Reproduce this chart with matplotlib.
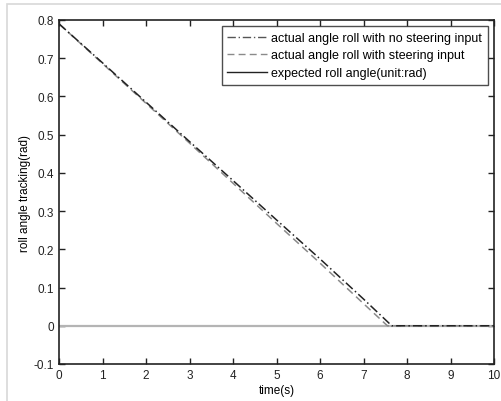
import matplotlib.pyplot as plt
from matplotlib.lines import Line2D
from matplotlib.patches import Rectangle

# roll angle
t_no_steer = [0, 1, 2, 3, 4, 5, 6, 7, 7.65, 8, 9, 10]
roll_no_steer = [0.79, 0.688, 0.585, 0.482, 0.38, 0.277, 0.175, 0.07, 0.0, 0.0, 0.0, 0.0]

t_steer = [0, 1, 2, 3, 4, 5, 6, 7, 7.55, 8, 9, 10]
roll_steer = [0.79, 0.686, 0.582, 0.478, 0.373, 0.268, 0.164, 0.058, 0.0, 0.0, 0.0, 0.0]

t_expected = [0, 10]
roll_expected = [0, 0]

plt.rcParams['font.family'] = ['Liberation Sans', 'DejaVu Sans']

fig = plt.figure(figsize=(5.02, 4.02), dpi=100)
ax = fig.add_axes([59 / 502, 1 - 365 / 402, (494 - 59) / 502, (365 - 21) / 402])

# light grey frame around the figure
fig.patches.append(Rectangle((7 / 502, -0.05), 1.1, 1 - 5 / 402 + 0.05,
                             transform=fig.transFigure, fill=False,
                             edgecolor='#d8d8d8', linewidth=1.2))

ax.plot(t_expected, roll_expected, color='#b4b4b4', linewidth=1.6)
ax.plot(t_steer, roll_steer, color='#8a8a8a', linestyle=(0, (5, 3)), linewidth=1.1)
ax.plot(t_no_steer, roll_no_steer, color='#222222', linestyle=(0, (6, 2, 1, 2)), linewidth=1.1)

ax.set_xlim(0, 10)
ax.set_ylim(-0.1, 0.8)
ax.set_xticks(range(0, 11))
ax.set_yticks([-0.1, 0, 0.1, 0.2, 0.3, 0.4, 0.5, 0.6, 0.7, 0.8])
ax.set_yticklabels(['-0.1', '0', '0.1', '0.2', '0.3', '0.4', '0.5', '0.6', '0.7', '0.8'])
ax.tick_params(direction='in', length=4, width=1, labelsize=8.5, top=True, right=True,
               colors='#222222')
for s in ax.spines.values():
    s.set_linewidth(1.2)
    s.set_color('#222222')

ax.set_xlabel('time(s)', fontsize=8.5, labelpad=2)
ax.set_ylabel('roll angle tracking(rad)', fontsize=8.5, labelpad=2)

handles = [
    Line2D([], [], color='#555555', linestyle=(0, (6, 2, 1, 2)), linewidth=1.0),
    Line2D([], [], color='#8a8a8a', linestyle=(0, (5, 3)), linewidth=1.0),
    Line2D([], [], color='#222222', linewidth=1.0),
]
labels = ['actual angle roll with no steering input',
          'actual angle roll with steering input',
          'expected roll angle(unit:rad)']
leg = ax.legend(handles, labels, loc='upper right', fontsize=9, frameon=True,
                fancybox=False, edgecolor='#222222', borderaxespad=0.5,
                handlelength=3.2, handletextpad=0.3, labelspacing=0.45,
                borderpad=0.45)
leg.get_frame().set_linewidth(1.0)

fig.savefig('out.png', dpi=100)
